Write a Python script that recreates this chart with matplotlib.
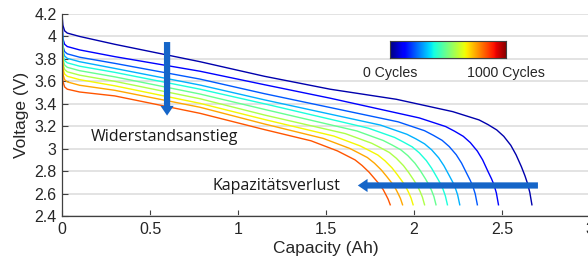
import numpy as np
import matplotlib.pyplot as plt

# discharge curves, 0 cycles (dark blue) ... 1000 cycles (orange-red)
plateau_q = [0, 0.005, 0.015, 0.03, 0.1, 0.3, 0.784, 1.15]
plateau_v = [
    [4.20, 4.10, 4.05, 4.03, 4.00, 3.93, 3.775, 3.645],
    [4.19, 3.98, 3.93, 3.91, 3.88, 3.82, 3.69, 3.57],
    [4.17, 3.915, 3.865, 3.845, 3.815, 3.76, 3.62, 3.49],
    [4.16, 3.875, 3.825, 3.805, 3.775, 3.715, 3.567, 3.435],
    [4.15, 3.835, 3.785, 3.765, 3.735, 3.68, 3.53, 3.40],
    [4.13, 3.795, 3.745, 3.725, 3.695, 3.64, 3.487, 3.35],
    [4.12, 3.755, 3.705, 3.685, 3.655, 3.60, 3.445, 3.30],
    [4.10, 3.715, 3.665, 3.645, 3.615, 3.56, 3.404, 3.26],
    [4.08, 3.665, 3.615, 3.595, 3.565, 3.52, 3.369, 3.22],
    [4.05, 3.60, 3.55, 3.53, 3.505, 3.47, 3.315, 3.17],
]
tail_q = [
    [1.523, 1.9, 2.22, 2.37, 2.42, 2.47, 2.51, 2.55, 2.58, 2.61, 2.63, 2.645, 2.658, 2.67],
    [1.523, 2.03, 2.18, 2.23, 2.28, 2.32, 2.36, 2.39, 2.42, 2.44, 2.455, 2.468, 2.48],
    [1.91, 2.06, 2.11, 2.16, 2.20, 2.24, 2.27, 2.30, 2.32, 2.335, 2.348, 2.36],
    [1.81, 1.96, 2.01, 2.06, 2.10, 2.14, 2.17, 2.20, 2.22, 2.235, 2.248, 2.26],
    [1.74, 1.89, 1.94, 1.99, 2.03, 2.07, 2.10, 2.13, 2.15, 2.165, 2.178, 2.19],
    [1.675, 1.825, 1.875, 1.925, 1.965, 2.005, 2.035, 2.065, 2.085, 2.10, 2.113, 2.125],
    [1.61, 1.76, 1.81, 1.86, 1.90, 1.94, 1.97, 2.00, 2.02, 2.035, 2.048, 2.06],
    [1.545, 1.695, 1.745, 1.795, 1.835, 1.875, 1.905, 1.935, 1.955, 1.97, 1.983, 1.995],
    [1.485, 1.635, 1.685, 1.735, 1.775, 1.815, 1.845, 1.875, 1.895, 1.91, 1.923, 1.935],
    [1.415, 1.565, 1.615, 1.665, 1.705, 1.745, 1.775, 1.805, 1.825, 1.84, 1.853, 1.865],
]
tail_v = [
    [3.53, 3.44, 3.33, 3.256, 3.215, 3.167, 3.11, 3.03, 2.945, 2.84, 2.76, 2.69, 2.61, 2.50],
    [3.45, 3.274, 3.197, 3.156, 3.110, 3.054, 2.978, 2.900, 2.798, 2.733, 2.676, 2.605, 2.50],
    [3.239, 3.160, 3.119, 3.074, 3.019, 2.946, 2.872, 2.778, 2.716, 2.662, 2.596, 2.50],
    [3.210, 3.128, 3.088, 3.043, 2.990, 2.919, 2.848, 2.761, 2.702, 2.649, 2.588, 2.50],
    [3.183, 3.100, 3.059, 3.016, 2.963, 2.894, 2.826, 2.745, 2.689, 2.638, 2.580, 2.50],
    [3.158, 3.073, 3.033, 2.990, 2.938, 2.871, 2.806, 2.731, 2.677, 2.627, 2.574, 2.50],
    [3.134, 3.048, 3.008, 2.966, 2.914, 2.849, 2.787, 2.717, 2.666, 2.617, 2.567, 2.50],
    [3.112, 3.024, 2.984, 2.943, 2.892, 2.829, 2.769, 2.704, 2.655, 2.608, 2.561, 2.50],
    [3.091, 3.002, 2.962, 2.921, 2.871, 2.809, 2.752, 2.692, 2.645, 2.599, 2.556, 2.50],
    [3.07, 2.98, 2.94, 2.90, 2.85, 2.79, 2.735, 2.68, 2.635, 2.59, 2.55, 2.50],
]
color_pos = np.linspace(0.04, 0.82, len(plateau_v))

xticks = [0, 0.5, 1, 1.5, 2, 2.5, 3]
yticks = [2.4, 2.6, 2.8, 3, 3.2, 3.4, 3.6, 3.8, 4, 4.2]

fig = plt.figure(figsize=(5.88, 2.66), dpi=100)
ax = fig.add_axes([62/588, 50/266, 528/588, 202/266])
axc = '#404040'

for i in range(len(plateau_v)):
    ax.plot(plateau_q + tail_q[i], plateau_v[i] + tail_v[i],
            color=plt.cm.jet(color_pos[i]), lw=1.0)

ax.set_xlim(0, 3)
ax.set_ylim(2.4, 4.2)
ax.set_xticks(xticks)
ax.set_yticks(yticks)
ax.set_xticklabels(['%g' % t for t in xticks], fontfamily='Liberation Sans')
ax.set_yticklabels(['%g' % t for t in yticks], fontfamily='Liberation Sans')
ax.tick_params(direction='in', length=4, color=axc, labelcolor='#262626',
               labelsize=11.5, pad=4)
ax.yaxis.grid(True, color='#e0e0e0', lw=1.3)
ax.set_axisbelow(True)
for s in ['top', 'right']:
    ax.spines[s].set_visible(False)
for s in ['left', 'bottom']:
    ax.spines[s].set_color(axc)
    ax.spines[s].set_linewidth(0.9)

ax.set_xlabel('Capacity (Ah)', fontfamily='Liberation Sans', fontsize=12.5,
              color='#262626', labelpad=3)
ax.set_ylabel('Voltage (V)', fontfamily='Liberation Sans', fontsize=12.5,
              color='#262626', labelpad=4)

arrow_c = '#1565c8'
ax.annotate('', xy=(0.597, 3.27), xytext=(0.597, 3.975),
            arrowprops=dict(arrowstyle='simple,head_width=0.95,head_length=0.7,tail_width=0.45',
                            mutation_scale=10, color=arrow_c, lw=0))
ax.annotate('', xy=(1.665, 2.672), xytext=(2.72, 2.672),
            arrowprops=dict(arrowstyle='simple,head_width=0.95,head_length=0.7,tail_width=0.45',
                            mutation_scale=10, color=arrow_c, lw=0))
ax.text(0.163, 3.104, 'Widerstandsanstieg', fontfamily='Open Sans', fontsize=11.5,
        color='#1a1a1a', va='center', ha='left')
ax.text(0.856, 2.667, 'Kapazitätsverlust', fontfamily='Open Sans', fontsize=11.5,
        color='#1a1a1a', va='center', ha='left')

cax = fig.add_axes([389.5/588, (266-58)/266, 116.5/588, 17/266])
cax.imshow(np.linspace(0, 1, 256)[None, :], aspect='auto', cmap='jet')
cax.set_xticks([])
cax.set_yticks([])
for s in cax.spines.values():
    s.set_color(axc)
    s.set_linewidth(0.8)
ax.text(1.708, 3.675, '0 Cycles', fontfamily='Liberation Sans', fontsize=10.2,
        color='#262626', va='center', ha='left')
ax.text(2.30, 3.675, '1000 Cycles', fontfamily='Liberation Sans', fontsize=10.2,
        color='#262626', va='center', ha='left')

fig.savefig('out.png', dpi=100)
